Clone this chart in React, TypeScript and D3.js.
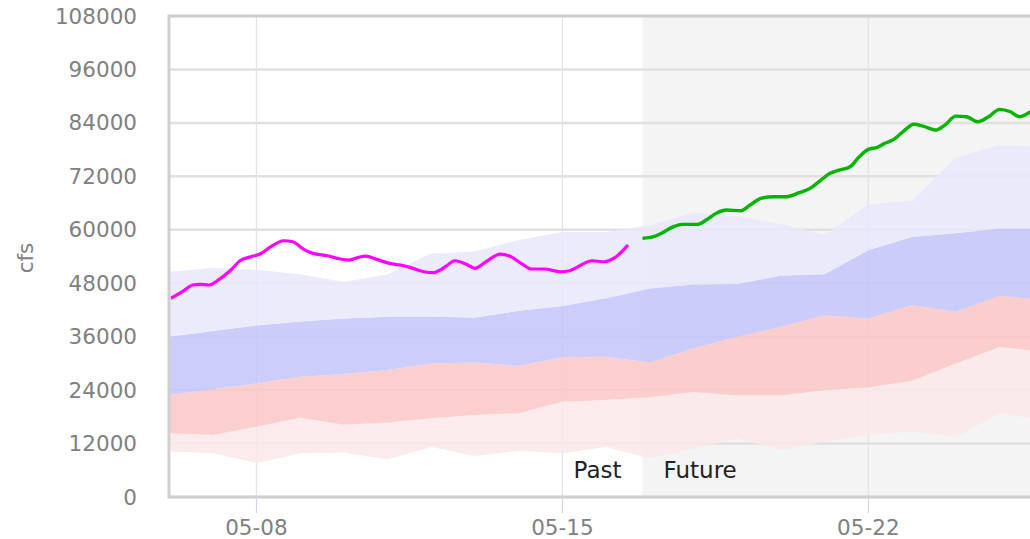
import * as d3 from "d3";

const WIDTH = 1030;
const HEIGHT = 539;
const MARGIN = { top: 16, left: 169, bottom: 42 };
const DAY_PX = 43.71;

const bandDays = [
  "05-06", "05-07", "05-08", "05-09", "05-10", "05-11", "05-12", "05-13", "05-14", "05-15", "05-16",
  "05-17", "05-18", "05-19", "05-20", "05-21", "05-22", "05-23", "05-24", "05-25", "05-26",
];
const p10 = [10200, 9900, 7600, 9800, 10000, 8500, 11200, 9200, 10400, 9800, 11200, 8700, 10800, 13200, 10500, 12400, 13900, 14700, 13500, 18800, 17300];
const p25 = [14300, 13900, 15800, 17800, 16200, 16700, 17700, 18400, 18800, 21400, 21800, 22400, 23600, 22800, 22800, 24000, 24600, 26100, 30000, 33700, 32600];
const p50 = [22900, 24200, 25500, 27000, 27600, 28500, 30000, 30200, 29400, 31400, 31500, 30200, 33400, 36000, 38200, 40800, 40100, 43100, 41600, 45200, 44200];
const p75 = [36000, 37300, 38500, 39400, 40100, 40500, 40500, 40300, 41800, 42900, 44600, 46800, 47700, 47800, 49700, 50000, 55400, 58400, 59200, 60300, 60300];
const p90 = [50600, 51400, 51000, 50000, 48300, 50000, 54700, 55100, 57700, 59500, 59500, 61000, 63800, 63000, 61300, 58800, 65700, 66500, 76200, 79000, 78500];

const pastTimes = [
  "05-06 01:00", "05-06 08:00", "05-06 13:00", "05-06 17:00", "05-06 22:00", "05-07 03:00",
  "05-07 10:00", "05-07 15:00", "05-07 21:00", "05-08 02:00", "05-08 08:00", "05-08 15:00",
  "05-08 20:00", "05-09 02:00", "05-09 07:00", "05-09 15:00", "05-09 22:00", "05-10 03:00",
  "05-10 08:00", "05-10 12:00", "05-10 18:00", "05-11 01:00", "05-11 09:00", "05-11 14:00",
  "05-11 20:00", "05-12 01:00", "05-12 07:00", "05-12 13:00", "05-12 19:00", "05-13 00:00",
  "05-13 06:00", "05-13 14:00", "05-13 19:00", "05-14 02:00", "05-14 07:00", "05-14 14:00",
  "05-14 23:00", "05-15 04:00", "05-15 12:00", "05-15 16:00", "05-15 23:00", "05-16 05:00",
  "05-16 12:00",
];
const pastFlow = [
  44600, 46300, 47600, 47750, 47600, 48700, 50960, 53050, 53950, 54550, 56200, 57540,
  57310, 55600, 54700, 54180, 53430, 53200, 53800, 54100, 53360, 52460, 51930, 51340,
  50580, 50360, 51480, 53050, 52310, 51340, 52820, 54550, 54100, 52310, 51190, 51190,
  50580, 50810, 52460, 53050, 52820, 53800, 56570,
];

const futureTimes = [
  "05-16 20:00", "05-17 02:00", "05-17 07:00", "05-17 13:00", "05-17 18:00", "05-18 02:00",
  "05-18 07:00", "05-18 13:00", "05-18 18:00", "05-19 02:00", "05-19 07:00", "05-19 13:00",
  "05-19 20:00", "05-20 03:00", "05-20 10:00", "05-20 16:00", "05-20 22:00", "05-21 03:00",
  "05-21 08:00", "05-21 14:00", "05-21 19:00", "05-22 00:00", "05-22 05:00", "05-22 09:00",
  "05-22 14:00", "05-22 19:00", "05-23 01:00", "05-23 06:00", "05-23 13:00", "05-23 18:00",
  "05-24 00:00", "05-24 06:00", "05-24 12:00", "05-24 18:00", "05-25 00:00", "05-25 06:00",
  "05-25 11:00", "05-25 17:00",
];
const futureFlow = [
  58080, 58440, 59340, 60690, 61220, 61220, 62190, 63830, 64430, 64280, 65550, 67060,
  67420, 67420, 68320, 69300, 71170, 72680, 73410, 74150, 76400, 78060, 78510, 79410,
  80300, 82010, 83680, 83290, 82390, 83510, 85530, 85380, 84260, 85380, 87040, 86500,
  85380, 86500,
];

const yTicks = [0, 12000, 24000, 36000, 48000, 60000, 72000, 84000, 96000, 108000];
const xTicks = ["05-08", "05-15", "05-22"];
const nowTime = "05-16 20:00";

const parseDay = d3.timeParse("%Y-%m-%d");
const parseTime = d3.timeParse("%Y-%m-%d %H:%M");
const day = (s) => parseDay("2024-" + s);
const time = (s) => parseTime("2024-" + s);

export default function App() {
  const plotBottom = HEIGHT - MARGIN.bottom;
  const plotRight = MARGIN.left + DAY_PX * 20;

  const xScale = d3
    .scaleTime()
    .domain([day("05-06"), day("05-26")])
    .range([MARGIN.left, plotRight]);
  const yScale = d3.scaleLinear().domain([0, 108000]).range([plotBottom, MARGIN.top]);

  const bandRows = bandDays.map((d, i) => ({
    x: day(d),
    p10: p10[i],
    p25: p25[i],
    p50: p50[i],
    p75: p75[i],
    p90: p90[i],
  }));

  // mostly opaque so the grey "future" area barely tints them
  const bands = [
    { lo: "p10", hi: "p25", fill: "rgb(251,231,231)" },
    { lo: "p25", hi: "p50", fill: "rgb(251,199,199)" },
    { lo: "p50", hi: "p75", fill: "rgb(195,196,249)" },
    { lo: "p75", hi: "p90", fill: "rgb(231,231,251)" },
  ];

  const bandPath = (lo, hi) =>
    d3
      .area()
      .x((d) => xScale(d.x))
      .y0((d) => yScale(d[lo]))
      .y1((d) => yScale(d[hi]))(bandRows);

  const lineBuilder = d3
    .line()
    .x((d) => xScale(d[0]))
    .y((d) => yScale(d[1]))
    .curve(d3.curveMonotoneX);

  const pastPath = lineBuilder(pastTimes.map((t, i) => [time(t), pastFlow[i]]));
  const futurePath = lineBuilder(futureTimes.map((t, i) => [time(t), futureFlow[i]]));

  const nowX = xScale(time(nowTime));
  const font = "'DejaVu Sans', Verdana, sans-serif";

  return (
    <div style={{ position: "fixed", left: 0, top: 0, width: WIDTH, height: HEIGHT, overflow: "hidden", background: "#fff" }}>
      <svg width={WIDTH} height={HEIGHT} style={{ display: "block" }}>
        <defs>
          <clipPath id="plot-clip">
            <rect x={MARGIN.left} y={MARGIN.top} width={plotRight - MARGIN.left} height={plotBottom - MARGIN.top} />
          </clipPath>
        </defs>

        <rect x={nowX} y={MARGIN.top} width={plotRight - nowX} height={plotBottom - MARGIN.top} fill="#f4f4f4" />

        {yTicks.map((t) => (
          <line key={t} x1={MARGIN.left} x2={plotRight} y1={yScale(t)} y2={yScale(t)} stroke="#e0e0e0" strokeWidth={2.5} />
        ))}
        {xTicks.map((t) => (
          <line key={t} x1={xScale(day(t))} x2={xScale(day(t))} y1={MARGIN.top} y2={plotBottom} stroke="#e2e2ea" strokeWidth={1.2} />
        ))}

        <g clipPath="url(#plot-clip)">
          {bands.map((b) => (
            <path key={b.lo} d={bandPath(b.lo, b.hi)} fill={b.fill} fillOpacity={0.85} stroke="none" />
          ))}
          <path d={pastPath} fill="none" stroke="#ff00ff" strokeWidth={3.2} strokeLinejoin="round" />
          <path d={futurePath} fill="none" stroke="#00b400" strokeWidth={3.4} strokeLinejoin="round" />
        </g>

        <path
          d={`M${plotRight},${MARGIN.top}H${MARGIN.left}V${plotBottom}H${plotRight}`}
          fill="none"
          stroke="#cfcfcf"
          strokeWidth={3}
        />
        {xTicks.map((t) => (
          <line key={t} x1={xScale(day(t))} x2={xScale(day(t))} y1={plotBottom + 2} y2={plotBottom + 16} stroke="#c5d0ea" strokeWidth={1} />
        ))}

        {yTicks.map((t) => (
          <text key={t} x={137} y={yScale(t)} dy="0.35em" textAnchor="end" fontFamily={font} fontSize={21.5} fill="#808080">
            {t}
          </text>
        ))}
        {xTicks.map((t) => (
          <text key={t} x={xScale(day(t))} y={535} textAnchor="middle" fontFamily={font} fontSize={21.5} fill="#808080">
            {t}
          </text>
        ))}
        <text transform="translate(33,258) rotate(-90)" textAnchor="middle" fontFamily={font} fontSize={21.5} fill="#808080">
          cfs
        </text>

        <text x={nowX - 21} y={478} textAnchor="end" fontFamily={font} fontSize={23} fill="#222">
          Past
        </text>
        <text x={nowX + 21} y={478} textAnchor="start" fontFamily={font} fontSize={23} fill="#222">
          Future
        </text>
      </svg>
    </div>
  );
}
